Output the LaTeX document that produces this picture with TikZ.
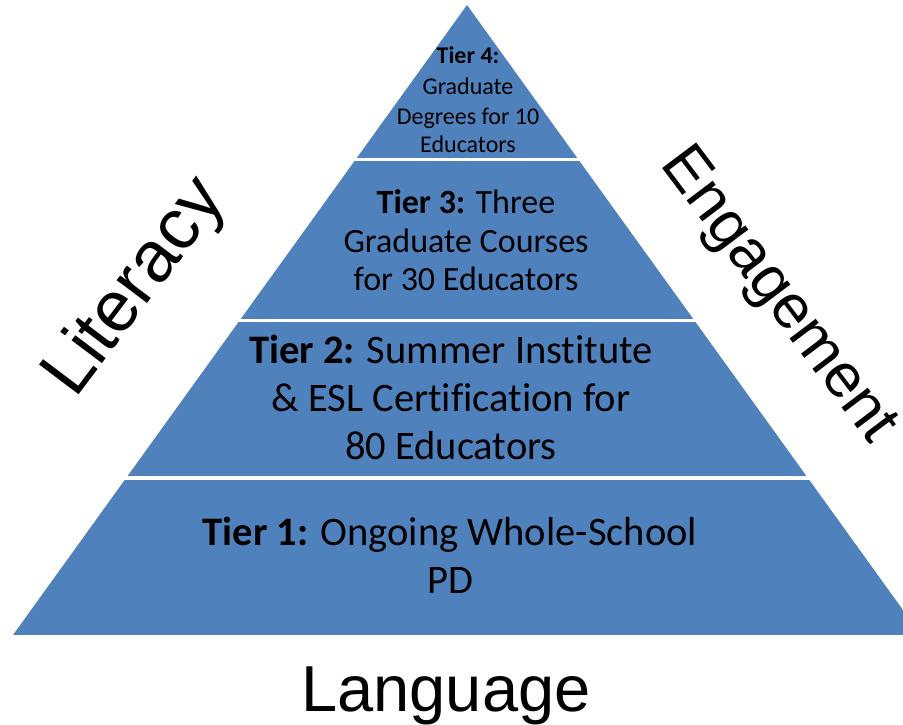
\documentclass[tikz,border=0pt]{standalone}
\usepackage{fontspec}
\setmainfont{Carlito}[Ligatures=CommonOff]
\newfontfamily\arialfont{Liberation Sans}
\definecolor{tierblue}{HTML}{4F81BD}
\tikzset{
  tierfill/.style={fill=tierblue},
  tierline/.style={anchor=base, inner sep=0pt, text=black},
  bigtier/.style={tierline, font=\fontsize{40.5}{48}\selectfont},
  midtier/.style={tierline, font=\fontsize{34}{38}\selectfont},
  smalltier/.style={tierline, font=\fontsize{24}{29}\selectfont},
  sidelabel/.style={inner sep=0pt, text=black},
}
\begin{document}
\begin{tikzpicture}[x=1pt, y=-1pt]
\useasboundingbox (0,0) rectangle (903,725);
\begin{scope}
  \clip (0,0) rectangle (903,725);
  \clip (467,5) -- (13,635) -- (921,635) -- cycle;
  \fill[tierfill] (0,0) rectangle (903,157.5);
  \fill[tierfill] (0,161) rectangle (903,318.5);
  \fill[tierfill] (0,321.5) rectangle (903,476);
  \fill[tierfill] (0,479.5) rectangle (903,635);
\end{scope}
% Tier 4
\node[smalltier] (t4a) at (468,64) {\textbf{Tier 4:}};
\node[smalltier] (t4b) at (468,95) {Graduate};
\node[smalltier] (t4c) at (468,124.5) {Degrees for 10};
\node[smalltier] (t4d) at (468,153) {Educators};
% Tier 3
\node[midtier] (t3a) at (466,213) {\textbf{Tier 3:} Three};
\node[midtier] (t3b) at (466,252) {Graduate Courses};
\node[midtier] (t3c) at (466,290) {for 30 Educators};
% Tier 2
\node[bigtier] (t2a) at (451,363) {\textbf{Tier 2:} Summer Institute};
\node[bigtier] (t2b) at (451,411) {\& ESL Certification for};
\node[bigtier] (t2c) at (451,459) {80 Educators};
% Tier 1
\node[bigtier] (t1a) at (450,545) {\textbf{Tier 1:} Ongoing Whole-School};
\node[bigtier] (t1b) at (450,593) {PD};
% Side labels
\node[sidelabel, rotate=53, font=\arialfont\fontsize{72}{76}\selectfont] (lit) at (136,288) {Literacy};
\node[sidelabel, rotate=-53, font=\arialfont\fontsize{62}{66}\selectfont] (eng) at (777,296) {Engagement};
\node[sidelabel, anchor=base, font=\arialfont\fontsize{65}{70}\selectfont] (lang) at (446,711) {Language};
\end{tikzpicture}
\end{document}
